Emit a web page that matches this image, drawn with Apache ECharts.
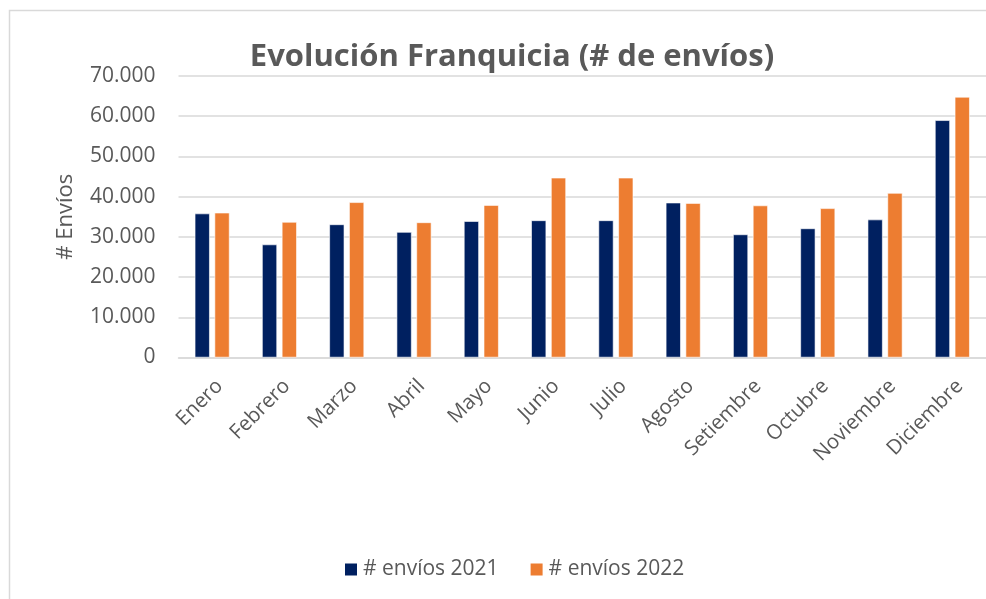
<!DOCTYPE html>
<html>
<head>
<meta charset="utf-8">
<script src="https://cdn.jsdelivr.net/npm/echarts@6/dist/echarts.min.js"></script>
<style>
  html, body { margin: 0; padding: 0; background: #fff; }
  #chart { width: 986px; height: 599px; }
</style>
</head>
<body>
<div id="chart"></div>
<script>
// datos
const meses = ["Enero", "Febrero", "Marzo", "Abril", "Mayo", "Junio", "Julio",
  "Agosto", "Setiembre", "Octubre", "Noviembre", "Diciembre"];
const envios2021 = [35800, 28100, 33100, 31200, 33900, 34100, 34100, 38500, 30600, 32100, 34300, 59000];
const envios2022 = [36000, 33700, 38600, 33600, 37900, 44700, 44700, 38400, 37800, 37100, 40900, 64800];
const serieNombres = ["# envíos 2021", "# envíos 2022"];

const gris = "#595959";
const fuente = "Open Sans";

let myChart = echarts.init(document.getElementById("chart"));
myChart.setOption({
  animation: false,
  textStyle: { fontFamily: fuente },
  // borde del área del gráfico (estilo Excel)
  graphic: [{
    type: "rect",
    shape: { x: 9.5, y: 10.5, width: 1000, height: 620 },
    style: { fill: "none", stroke: "#d9d9d9", lineWidth: 1.5 },
    silent: true
  }],
  title: {
    text: "Evolución Franquicia (# de envíos)",
    left: 507,
    top: 37,
    textAlign: "center",
    textStyle: { fontFamily: fuente, fontSize: 31, fontWeight: "bold", color: gris }
  },
  legend: {
    data: serieNombres,
    left: 338,
    top: 554,
    itemWidth: 14,
    itemHeight: 14,
    itemGap: 30,
    icon: "rect",
    textStyle: { fontFamily: fuente, fontSize: 21, color: gris }
  },
  grid: {
    left: 178.5,
    top: 76,
    width: 817,
    height: 281.5,
    containLabel: false
  },
  xAxis: {
    type: "category",
    data: meses,
    axisTick: { show: false },
    axisLine: { lineStyle: { color: "#d9d9d9", width: 1.5 } },
    axisLabel: {
      interval: 0,
      rotate: 45,
      margin: 18,
      verticalAlign: "top",
      fontFamily: fuente,
      fontSize: 20.5,
      color: gris
    }
  },
  yAxis: {
    type: "value",
    min: 0,
    max: 70000,
    interval: 10000,
    name: "# Envíos",
    nameLocation: "middle",
    nameGap: 102,
    nameTextStyle: { fontFamily: fuente, fontSize: 22, color: gris },
    axisLine: { show: false },
    axisTick: { show: false },
    splitLine: { lineStyle: { color: "#d9d9d9", width: 1.5 } },
    axisLabel: {
      margin: 23,
      fontFamily: fuente,
      fontSize: 21,
      color: gris,
      formatter: function (v) {
        return v.toString().replace(/\B(?=(\d{3})+(?!\d))/g, ".");
      }
    }
  },
  series: [
    {
      name: serieNombres[0],
      type: "bar",
      data: envios2021,
      barWidth: 15,
      barGap: "32%",
      itemStyle: { color: "#002060", borderColor: "#ffffff", borderWidth: 0.6 }
    },
    {
      name: serieNombres[1],
      type: "bar",
      data: envios2022,
      barWidth: 15,
      itemStyle: { color: "#ED7D31", borderColor: "#ffffff", borderWidth: 0.6 }
    }
  ]
});
</script>
</body>
</html>
